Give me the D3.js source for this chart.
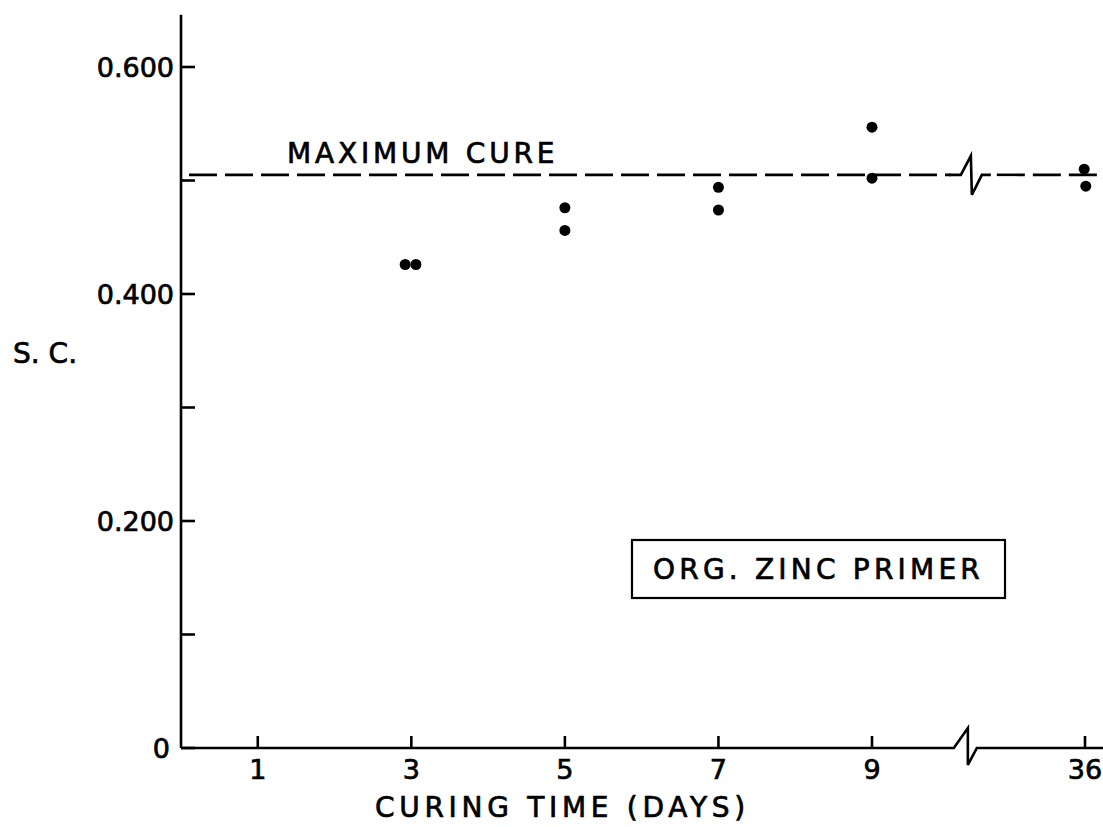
<!DOCTYPE html>
<html>
<head>
<meta charset="utf-8">
<script src="https://cdn.jsdelivr.net/npm/d3@7"></script>
<style>
  html, body { margin: 0; padding: 0; background: #fff; }
  svg { display: block; }
  text { font-family: "DejaVu Sans", "Liberation Sans", sans-serif; fill: #000; stroke: #000; stroke-width: 0.7px; }
</style>
</head>
<body>
<svg id="chart" width="1103" height="827"></svg>
<script>
// Specific conductance (S.C.) of an organic zinc primer versus curing time
const sampleDays = [2.92, 3.06, 5, 5, 7, 7, 9, 9, 35.9, 36.1];
const sampleSC   = [0.426, 0.426, 0.476, 0.456, 0.494, 0.474, 0.547, 0.502, 0.510, 0.495];
const maxCure = 0.505;
const xTickDays = [1, 3, 5, 7, 9, 36];
const yTicks = [0, 0.1, 0.2, 0.3, 0.4, 0.5, 0.6];
const yLabelled = [0, 0.2, 0.4, 0.6];

const W = 1103, H = 827;
const svg = d3.select("#chart");

// x axis is broken between 9 and 36 days: piecewise linear scale
const x = d3.scaleLinear().domain([0, 9, 36]).range([181, 872, 1085]);
const y = d3.scaleLinear().domain([0, 0.6]).range([748, 67]);

const ink = "#000";
const axisW = 2.6;

// y axis line
svg.append("line")
  .attr("x1", x(0)).attr("x2", x(0))
  .attr("y1", y(0)).attr("y2", y(0.646))
  .attr("stroke", ink).attr("stroke-width", axisW);

// y ticks point into the plot
svg.append("g").selectAll("line").data(yTicks).join("line")
  .attr("x1", x(0)).attr("x2", x(0) + 14)
  .attr("y1", d => y(d)).attr("y2", d => y(d))
  .attr("stroke", ink).attr("stroke-width", axisW);

svg.append("g").selectAll("text").data(yLabelled).join("text")
  .attr("x", d => d === 0 ? x(0) - 11 : x(0) - 7)
  .attr("y", d => y(d))
  .attr("dy", "0.36em")
  .attr("text-anchor", "end")
  .attr("font-size", 27)
  .text(d => d === 0 ? "0" : d3.format(".3f")(d));

svg.append("text")
  .attr("x", 13).attr("y", 363)
  .attr("font-size", 28)
  .text("S. C.");

// x axis with a break mark between 9 and 36 days
const xb = x(9) + 0.45 * (x(36) - x(9));
const y0 = y(0);
svg.append("path")
  .attr("d", `M${x(0)},${y0} L${xb - 14},${y0} L${xb},${y0 - 20} L${xb},${y0 + 17} L${xb + 9},${y0} L${W},${y0}`)
  .attr("fill", "none").attr("stroke", ink).attr("stroke-width", axisW)
  .attr("stroke-linejoin", "miter");

// x ticks point upward
svg.append("g").selectAll("line").data(xTickDays).join("line")
  .attr("x1", d => x(d)).attr("x2", d => x(d))
  .attr("y1", y0).attr("y2", y0 - 12)
  .attr("stroke", ink).attr("stroke-width", axisW);

svg.append("g").selectAll("text").data(xTickDays).join("text")
  .attr("x", d => x(d)).attr("y", 779)
  .attr("text-anchor", "middle")
  .attr("font-size", 27)
  .text(d => d);

svg.append("text")
  .attr("x", 375).attr("y", 817)
  .attr("font-size", 28)
  .attr("letter-spacing", 4.7)
  .text("CURING TIME (DAYS)");

// maximum cure reference line, dashed, with its own break mark
const ym = y(maxCure);
const xb2 = xb + 3;
svg.append("line")
  .attr("x1", x(0) + 8).attr("x2", xb2 - 20)
  .attr("y1", ym).attr("y2", ym)
  .attr("stroke", ink).attr("stroke-width", axisW)
  .attr("stroke-dasharray", "28 8");
svg.append("path")
  .attr("d", `M${xb2 - 22},${ym} L${xb2 - 10},${ym} L${xb2},${ym - 19} L${xb2 + 1},${ym + 20} L${xb2 + 11},${ym} L${xb2 + 20},${ym}`)
  .attr("fill", "none").attr("stroke", ink).attr("stroke-width", axisW);
svg.append("line")
  .attr("x1", xb2 + 26).attr("x2", W)
  .attr("y1", ym).attr("y2", ym)
  .attr("stroke", ink).attr("stroke-width", axisW)
  .attr("stroke-dasharray", "28 8");

svg.append("text")
  .attr("x", 287).attr("y", 163)
  .attr("font-size", 28)
  .attr("letter-spacing", 3.8)
  .text("MAXIMUM CURE");

// measured points
const pts = sampleDays.map((d, i) => ({ day: d, sc: sampleSC[i] }));
svg.append("g").selectAll("circle").data(pts).join("circle")
  .attr("cx", d => x(d.day)).attr("cy", d => y(d.sc))
  .attr("r", 5.5).attr("fill", ink);

// legend box
svg.append("rect")
  .attr("x", 632).attr("y", 540).attr("width", 373).attr("height", 58)
  .attr("fill", "none").attr("stroke", ink).attr("stroke-width", 2.2);
svg.append("text")
  .attr("x", 653).attr("y", 579)
  .attr("font-size", 28)
  .attr("letter-spacing", 4.2)
  .text("ORG. ZINC PRIMER");
</script>
</body>
</html>
